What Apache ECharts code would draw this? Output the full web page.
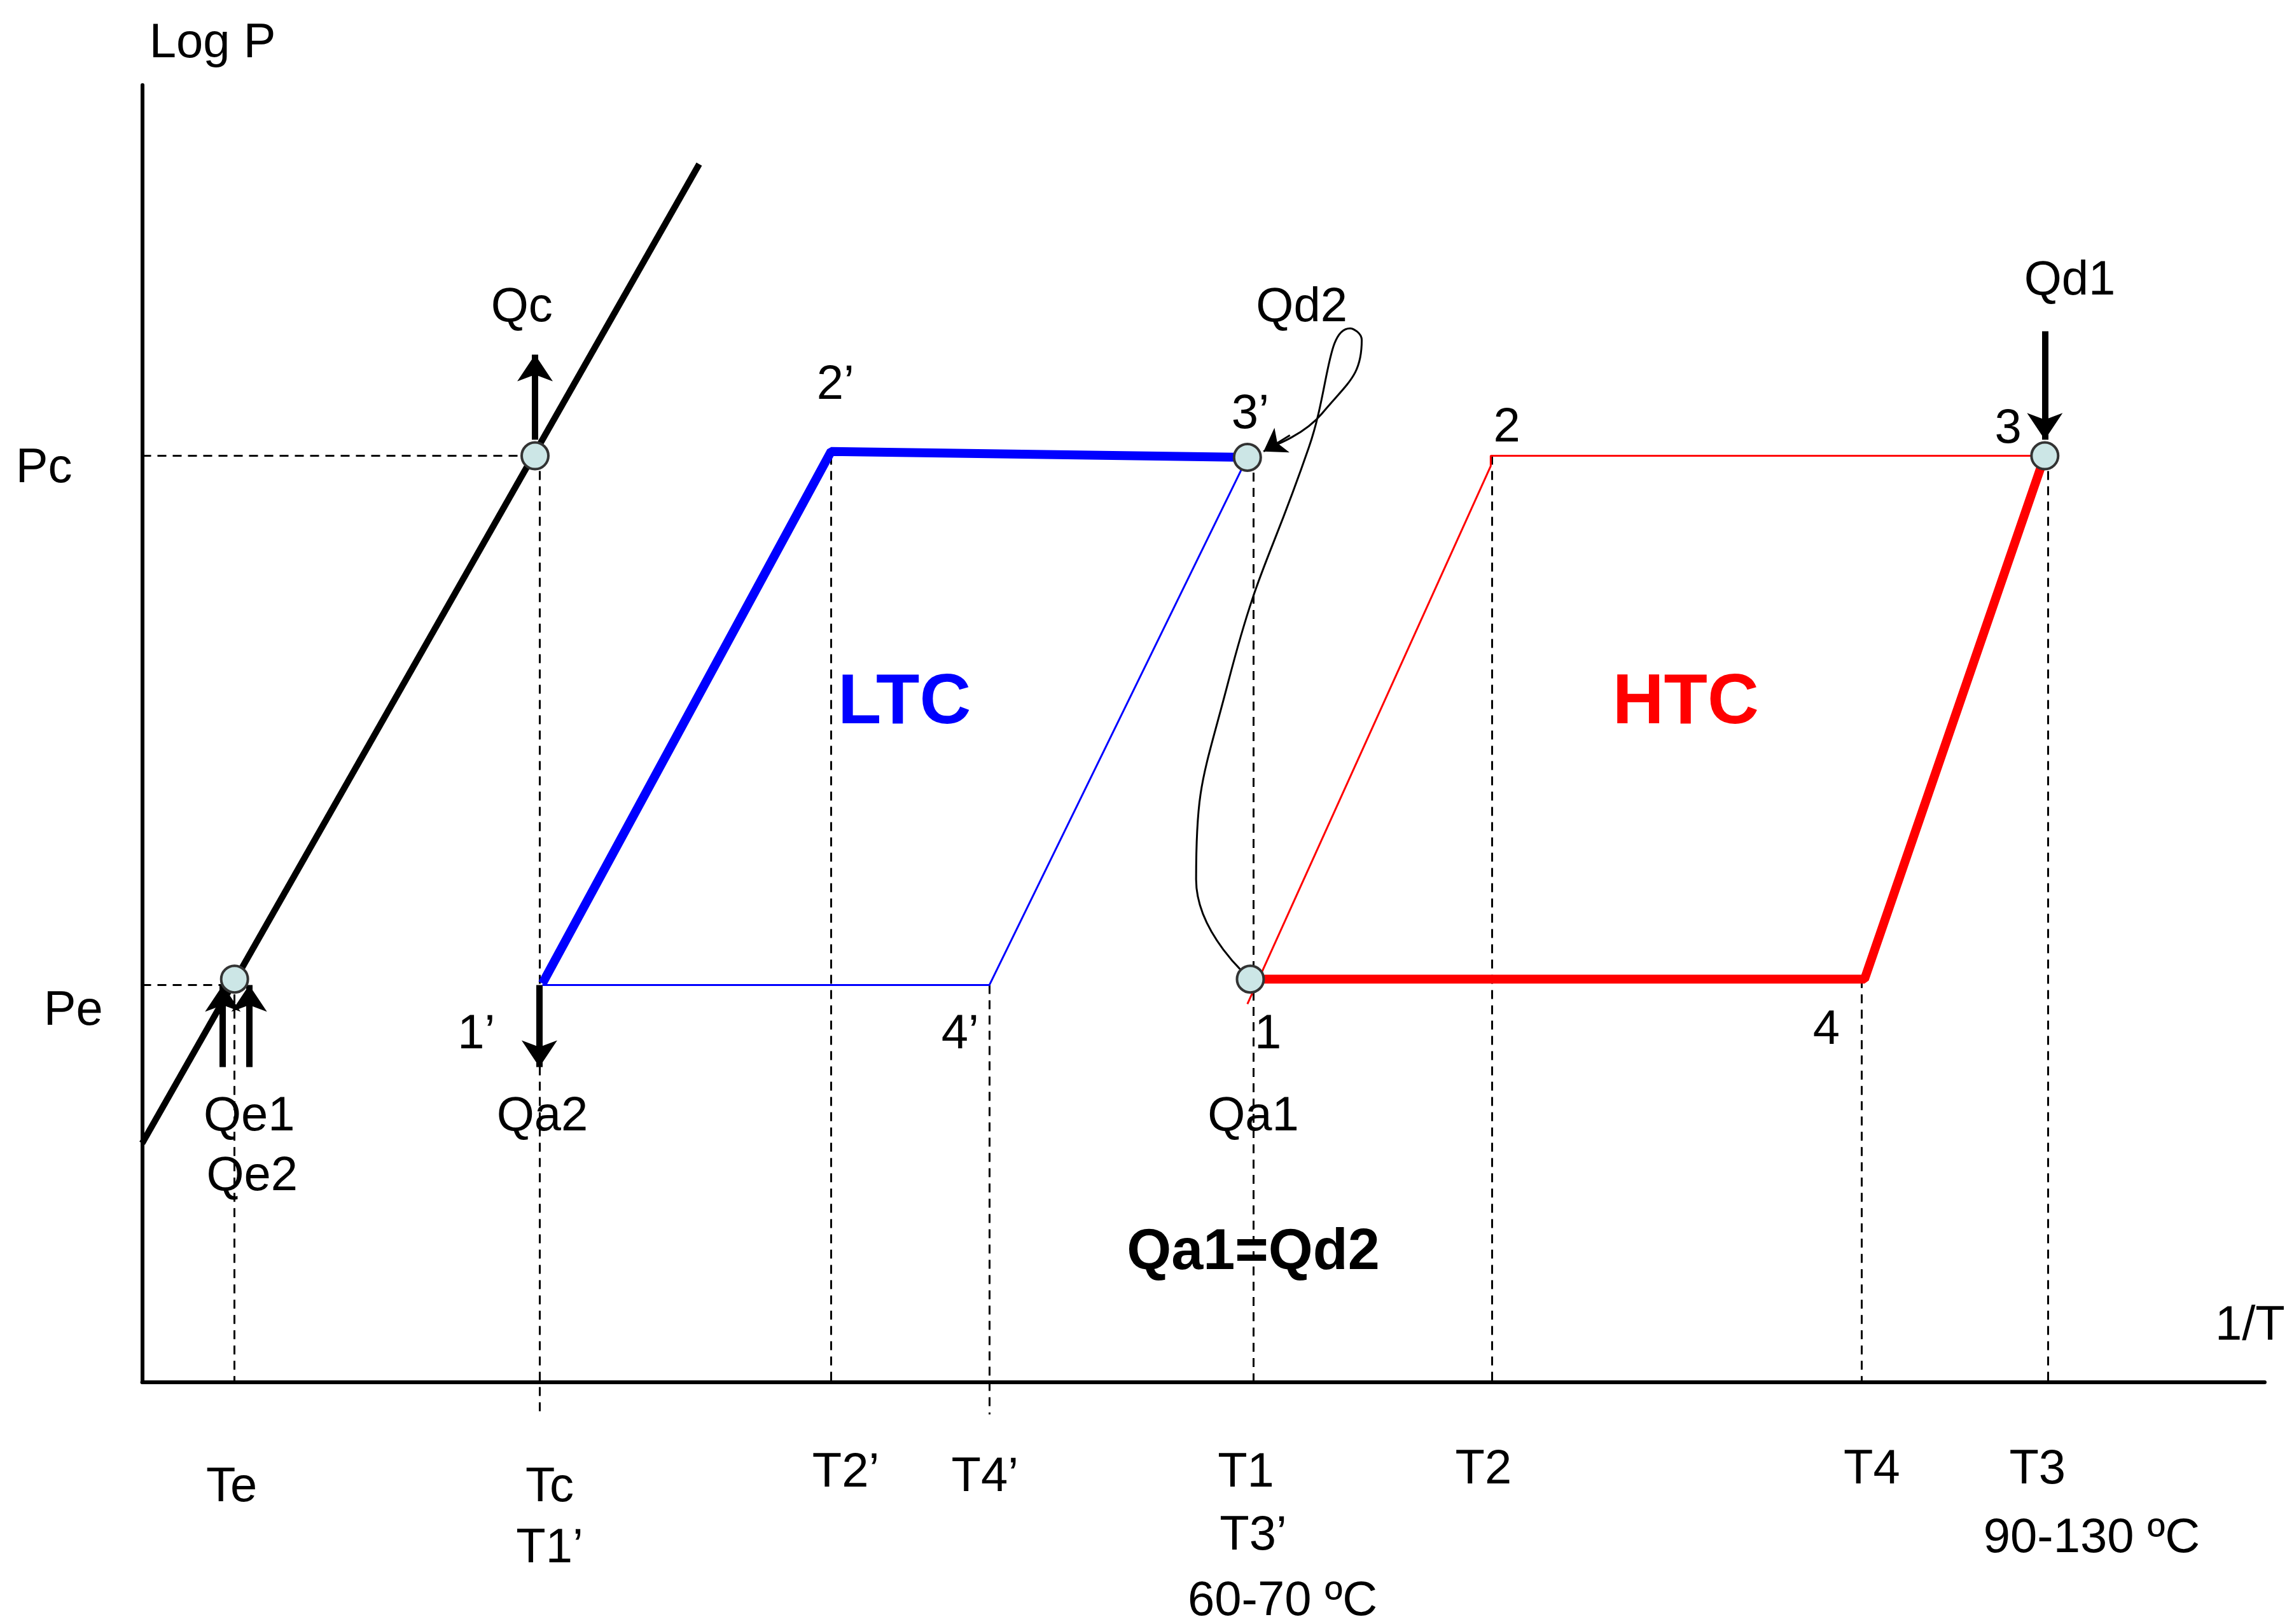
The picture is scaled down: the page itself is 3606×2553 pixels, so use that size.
<!DOCTYPE html>
<html lang="en">
<head>
  <meta charset="UTF-8">
  <title>Cascade cycle Log P - 1/T</title>
  <script src="https://cdn.jsdelivr.net/npm/echarts@6/dist/echarts.min.js"></script>
  <style>html,body{margin:0;background:#fff}</style>
</head>
<body>
  <div id="main" style="width: 3606px; height: 2553px;"></div>
  <script>
    // diagram units: x grows with 1/T, y = 943 - pixel row of the 1565px-wide drawing
    const S = 3606 / 1565;
    const Y = py => 943 - py;

    // solid lines of the diagram [x, y] pairs
    const satLine = [[97, 780], [477, 112]];
    const ltcThick = [[370, 671], [567, 308], [851, 312]];
    const ltcThin = [[851, 312], [675, 672], [370, 672]];
    const htcThin = [[851, 685], [1017, 318], [1017, 311], [1395, 311]];
    const htcThick = [[1395, 311], [1272, 668], [855, 668]];
    const loopCurve = [[853, 668], [816, 600], [838, 465], [893, 305], [921, 224], [929, 232], [902, 282], [869, 304]];

    // dashed guides [x1, y1, x2, y2]
    const dashes = [
      [97, 311, 365, 311], [97, 672, 160, 672],
      [160, 668, 160, 943], [368, 311, 368, 965], [567, 311, 567, 943],
      [675, 672, 675, 965], [855, 312, 855, 943], [1018, 311, 1018, 943],
      [1270, 668, 1270, 943], [1397, 311, 1397, 943]
    ];

    // heat arrows [x1, y1, x2, y2]
    const arrows = [
      [365, 300, 365, 242], [368, 672, 368, 728], [1395, 226, 1395, 300],
      [152, 728, 152, 672], [170, 728, 170, 672]
    ];
    const thinArrow = [[880, 297, 862, 308]];

    // state points
    const points = [[365, 311], [160, 668], [851, 312], [853, 668], [1395, 311]];

    // labels [x, y, text]
    const labels = [
      [145, 30, 'Log P'], [30, 320, 'Pc'], [50, 690, 'Pe'], [356, 210, 'Qc'],
      [570, 263, '2\u2019'], [853, 283, '3\u2019'], [888, 210, 'Qd2'], [1028, 292, '2'],
      [1412, 192, 'Qd1'], [1370, 293, '3'], [325, 706, '1\u2019'], [655, 706, '4\u2019'],
      [865, 706, '1'], [1246, 703, '4'], [170, 762, 'Qe1'], [172, 803, 'Qe2'],
      [370, 762, 'Qa2'], [855, 762, 'Qa1'], [1535, 905, '1/T'], [158, 1015, 'Te'],
      [375, 1015, 'Tc'], [375, 1057, 'T1\u2019'], [577, 1005, 'T2\u2019'], [672, 1008, 'T4\u2019'],
      [850, 1005, 'T1'], [855, 1048, 'T3\u2019'], [875, 1093, '60-70 \u00baC'], [1012, 1003, 'T2'],
      [1277, 1003, 'T4'], [1390, 1003, 'T3'], [1427, 1050, '90-130 \u00baC']
    ];
    const boldLabels = [[617, 480, 'LTC', '#0000ff', 112], [1150, 480, 'HTC', '#ff0000', 112], [855, 855, 'Qa1=Qd2', '#000', 90]];

    const conv = arr => arr.map(p => [p[0], Y(p[1])]);
    const seg = arr => arr.map(d => ({ coords: [[d[0], Y(d[1])], [d[2], Y(d[3])]] }));
    const FONT = 'Liberation Sans';

    const polyline = (data, color, w) => ({
      type: 'line', data: conv(data), symbol: 'none', silent: true, clip: false,
      lineStyle: { color: color, width: w }
    });

    const chart = echarts.init(document.getElementById('main'));
    chart.setOption({
      animation: false,
      grid: { left: 97 * S, right: 20 * S, top: 58 * S, bottom: (1108 - 943) * S },
      xAxis: {
        type: 'value', min: 97, max: 1545,
        axisLine: { lineStyle: { color: '#000', width: 6 } },
        axisTick: { show: false }, axisLabel: { show: false }, splitLine: { show: false }
      },
      yAxis: {
        type: 'value', min: 0, max: 885,
        axisLine: { show: true, lineStyle: { color: '#000', width: 6 } },
        axisTick: { show: false }, axisLabel: { show: false }, splitLine: { show: false }
      },
      series: [
        {
          type: 'lines', coordinateSystem: 'cartesian2d', data: seg(dashes), silent: true, clip: false,
          lineStyle: { color: '#000', width: 3, type: [14, 10], opacity: 1 }
        },
        polyline(satLine, '#000', 10),
        polyline(ltcThick, '#0000ff', 14),
        polyline(ltcThin, '#0000ff', 3),
        polyline(htcThin, '#ff0000', 3),
        polyline(htcThick, '#ff0000', 14),
        { type: 'line', data: conv(loopCurve), smooth: true, symbol: 'none', silent: true, clip: false,
          lineStyle: { color: '#000', width: 3 } },
        {
          type: 'lines', coordinateSystem: 'cartesian2d', data: seg(arrows), silent: true, clip: false,
          symbol: ['none', 'arrow'], symbolSize: 42,
          lineStyle: { color: '#000', width: 10, opacity: 1 }
        },
        {
          type: 'lines', coordinateSystem: 'cartesian2d', data: seg(thinArrow), silent: true, clip: false,
          symbol: ['none', 'arrow'], symbolSize: 34,
          lineStyle: { color: '#000', width: 3, opacity: 1 }
        },
        {
          type: 'scatter', data: conv(points), symbolSize: 42, silent: true, z: 10, clip: false,
          itemStyle: { color: '#cce6e6', borderColor: '#333', borderWidth: 4, opacity: 1 }
        },
        {
          type: 'scatter', symbolSize: 1, silent: true, z: 11, clip: false,
          itemStyle: { color: 'rgba(0,0,0,0)' },
          data: labels.map(l => ({ value: [l[0], Y(l[1])], name: l[2] })),
          label: { show: true, position: 'inside', formatter: p => p.name,
            fontFamily: FONT, fontSize: 76, color: '#000', opacity: 1 }
        },
        {
          type: 'scatter', symbolSize: 1, silent: true, z: 11, clip: false,
          itemStyle: { color: 'rgba(0,0,0,0)' },
          data: boldLabels.map(l => ({ value: [l[0], Y(l[1])], name: l[2],
            label: { color: l[3], fontSize: l[4] } })),
          label: { show: true, position: 'inside', formatter: p => p.name,
            fontFamily: FONT, fontWeight: 'bold', opacity: 1 }
        }
      ]
    });
  </script>
</body>
</html>
